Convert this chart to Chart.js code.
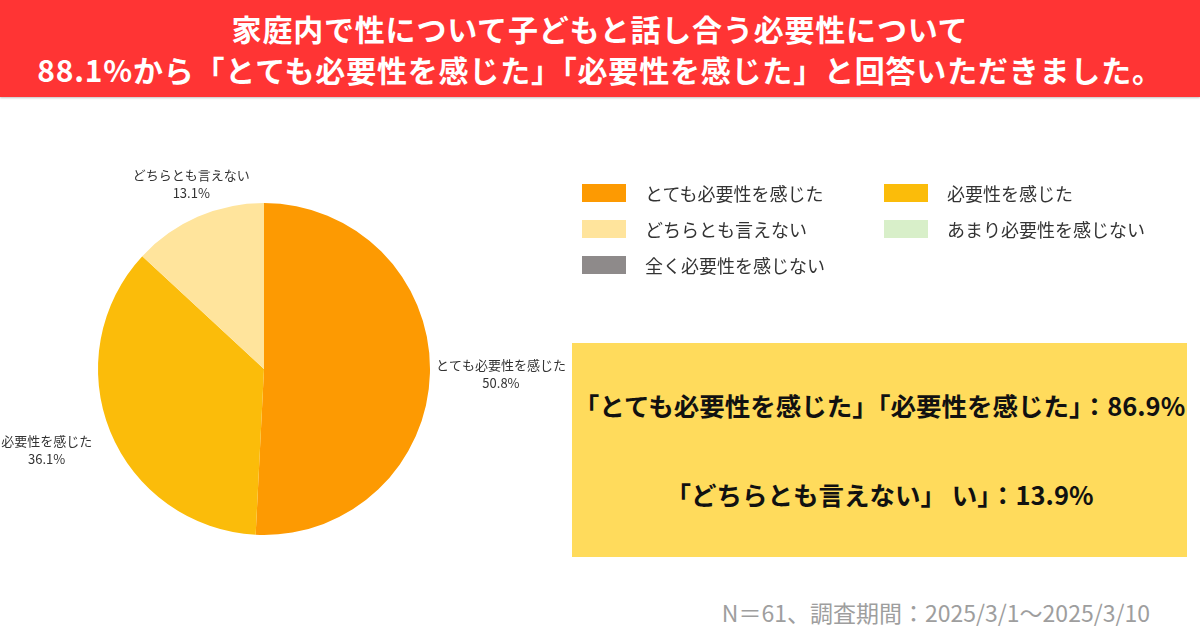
<!DOCTYPE html>
<html lang="ja">
<head>
<meta charset="utf-8">
<script src="https://cdn.jsdelivr.net/npm/chart.js@4/dist/chart.umd.min.js"></script>
<style>
  body { margin: 0; width: 1200px; height: 630px; background: #fff; position: relative; overflow: hidden;
         font-family: "Noto Sans CJK JP", "Noto Sans", sans-serif; }
  .header { position: absolute; left: 0; top: 0; width: 1200px; height: 97px; background: #ff3434;
            color: #fff; font-weight: 700; font-size: 30px; line-height: 41px; text-align: center;
            letter-spacing: 0.8px; padding-top: 8px; box-sizing: border-box; box-shadow: 0 1px 2px rgba(0,0,0,0.25); }
  .pie-wrap { position: absolute; left: 0; top: 159px; width: 600px; height: 420px; }
  .legend { position: absolute; left: 582px; top: 182px; display: grid;
            grid-template-columns: 302px 302px; row-gap: 14px; }
  .legend .item { display: flex; align-items: center; height: 22px; font-size: 18px; color: #333; }
  .legend .box { width: 44px; height: 18px; margin-right: 19px; }
  .summary { position: absolute; left: 572px; top: 343px; width: 615px; height: 214px; background: #ffdb5c;
             font-weight: 700; font-size: 25.5px; color: #111; text-align: center; }
  .summary .l1 { position: absolute; left: 0; right: 0; top: 43px; white-space: nowrap; }
  .summary .l2 { position: absolute; left: 0; right: 0; top: 132px; white-space: nowrap; }
  .note { position: absolute; right: 50px; top: 595px; font-size: 23px; color: #9e9e9e; white-space: nowrap; }
</style>
</head>
<body>
<div class="header">家庭内で性について子どもと話し合う必要性について<br>88.1%から「とても必要性を感じた」「必要性を感じた」と回答いただきました。</div>
<div class="pie-wrap"><canvas id="pie"></canvas></div>
<div class="legend" id="legend"></div>
<div class="summary">
  <div class="l1">「とても必要性を感じた」「必要性を感じた」：86.9%</div>
  <div class="l2">「どちらとも言えない」 い」：13.9%</div>
</div>
<div class="note">N＝61、調査期間：2025/3/1～2025/3/10</div>
<script>
const categories = ["とても必要性を感じた", "必要性を感じた", "どちらとも言えない", "あまり必要性を感じない", "全く必要性を感じない"];
const shares = [50.8, 36.1, 13.1, 0, 0];
const sliceColors = ["#fd9a02", "#fbbc0a", "#ffe49c", "#d8efc9", "#8e8a8a"];

// legend built from the same arrays
const legendEl = document.getElementById("legend");
categories.forEach(function (name, i) {
    const item = document.createElement("div");
    item.className = "item";
    item.innerHTML = '<span class="box" style="background:' + sliceColors[i] + '"></span>' + name;
    legendEl.appendChild(item);
});

// labels outside the slices: name + percent
const outLabels = {
    id: "outLabels",
    afterDatasetsDraw(chart) {
        const ctx = chart.ctx;
        const meta = chart.getDatasetMeta(0);
        ctx.save();
        ctx.font = '13px "Noto Sans CJK JP", sans-serif';
        ctx.fillStyle = "#333";
        ctx.textBaseline = "middle";
        ctx.textAlign = "center";
        meta.data.forEach(function (arc, i) {
            const v = shares[i];
            if (!v) return;
            const mid = (arc.startAngle + arc.endAngle) / 2;
            const cos = Math.cos(mid), sin = Math.sin(mid);
            const d = arc.outerRadius + 6 + 14 * (1 - cos) / 2;
            const ax = arc.x + cos * d;
            const ay = arc.y + sin * d;
            const lines = [categories[i], v.toFixed(1) + "%"];
            const w = Math.max.apply(null, lines.map(function (t) { return ctx.measureText(t).width; }));
            const lh = 18;
            const h = lh * lines.length;
            let cx = ax, top = ay - h / 2 + sin * h * 0.8;
            if (cos > 0.5) cx = ax + w / 2;
            else if (cos < -0.5) cx = ax - w / 2;
            if (sin < -0.7) top = ay - h;
            else if (sin > 0.7) top = ay;
            lines.forEach(function (t, k) {
                ctx.fillText(t, cx, top + lh * k + lh / 2);
            });
        });
        ctx.restore();
    }
};

new Chart(document.getElementById("pie"), {
    type: "pie",
    data: {
        labels: categories,
        datasets: [{
            data: shares,
            backgroundColor: sliceColors,
            borderWidth: 0
        }]
    },
    options: {
        responsive: true,
        maintainAspectRatio: false,
        animation: false,
        layout: { padding: { left: 98, right: 170, top: 44, bottom: 44 } },
        plugins: {
            legend: { display: false },
            tooltip: { enabled: false }
        }
    },
    plugins: [outLabels]
});
</script>
</body>
</html>
